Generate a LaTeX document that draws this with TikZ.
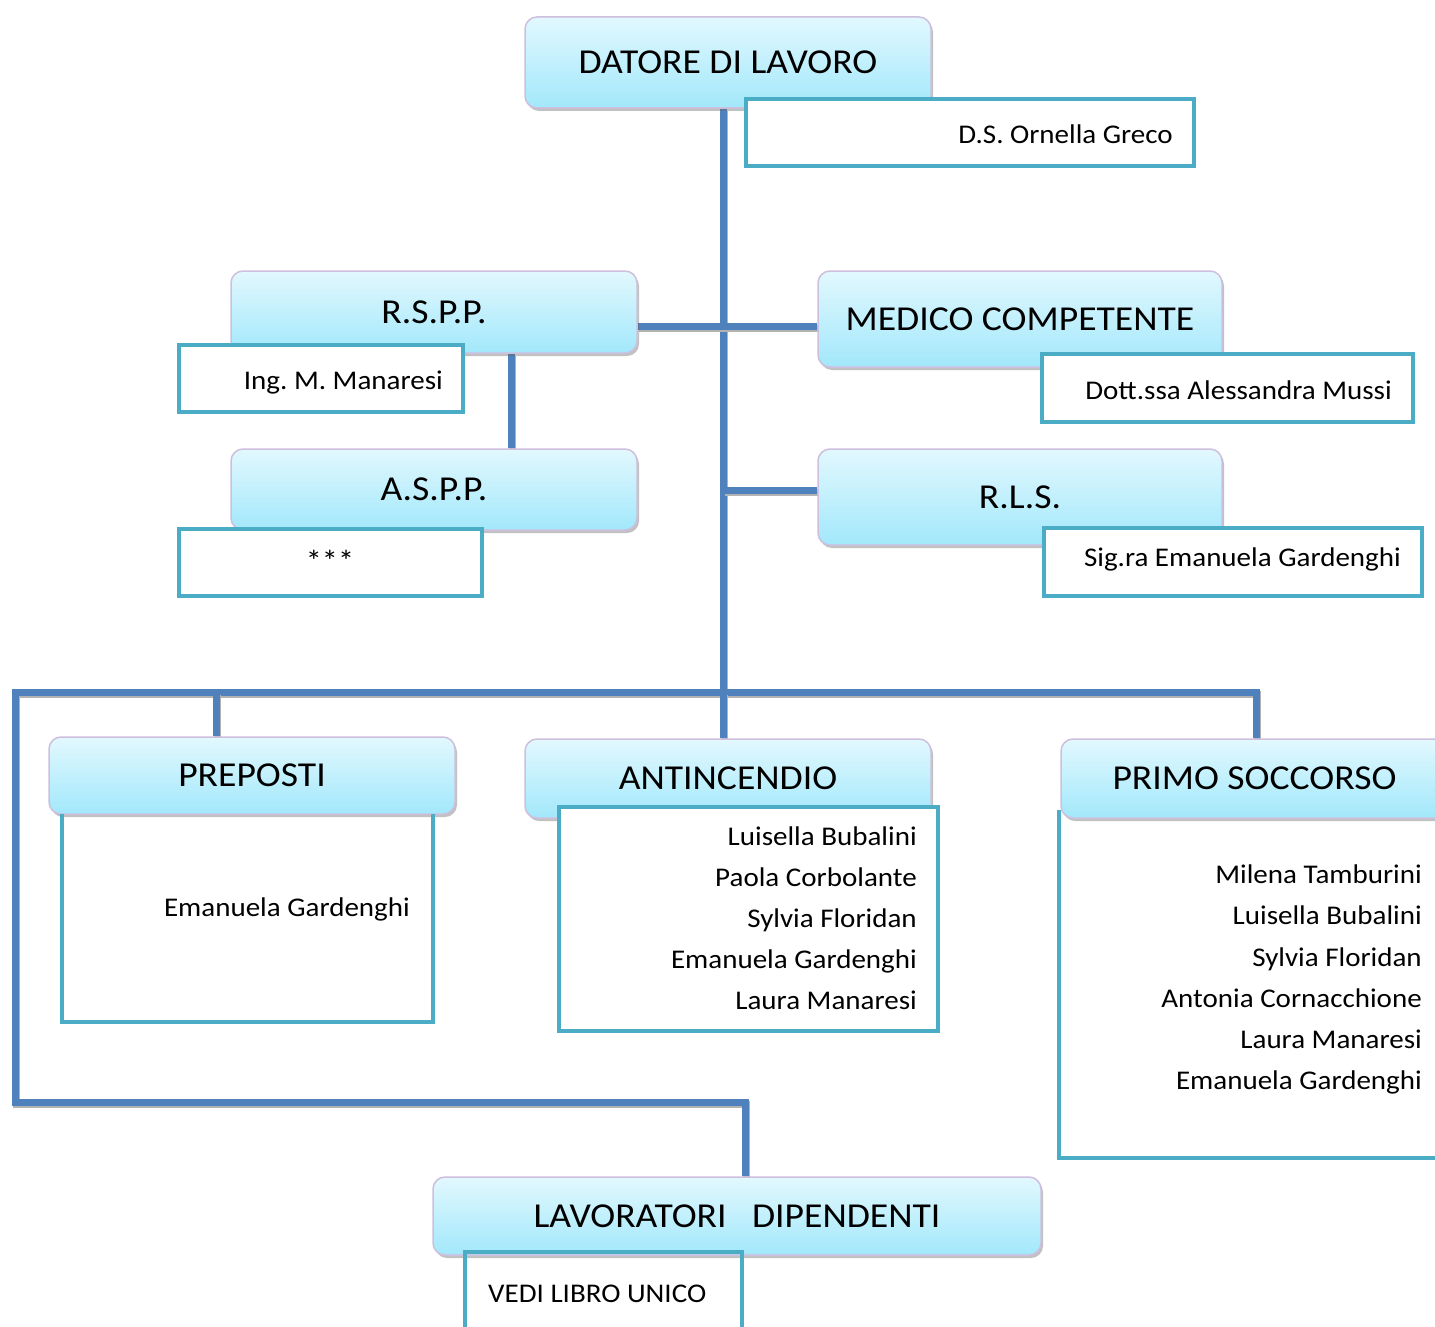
\documentclass[tikz,border=0pt]{standalone}
\usepackage{fontspec}
\setmainfont[FakeStretch=1.075]{Carlito}
\usetikzlibrary{shadows}
\pgfdeclarelayer{background}
\pgfsetlayers{background,main}
\definecolor{conncol}{HTML}{4F81BD}
\definecolor{boxcol}{HTML}{4BACC6}
\definecolor{hdtop}{HTML}{E2F8FE}
\definecolor{hdbot}{HTML}{A2E8FB}
\definecolor{hdline}{HTML}{CDBFDD}
\frenchspacing
\begin{document}
\begin{tikzpicture}[x=1pt,y=-1pt,
 hdr/.style={draw=hdline, line width=1.5pt, rounded corners=12pt, top color=hdtop, bottom color=hdbot,
   font=\fontsize{35}{42}\selectfont, inner sep=0pt,
   drop shadow={shadow xshift=2pt, shadow yshift=-3pt, opacity=0.4, fill=black!60}},
 tbox/.style={draw=boxcol, line width=4.5pt, fill=white, inner sep=0pt},
 bline/.style={draw=boxcol, line width=4.5pt},
 nm/.style={font=\fontsize{27}{32}\selectfont, inner sep=0pt},
 conn/.style={draw=conncol, line width=7pt,
   preaction={draw=black!30, line width=7pt, transform canvas={shift={(1.5pt,-2.5pt)}}}},
]
\begin{pgfonlayer}{background}
\path[use as bounding box] (0,0) rectangle (1435,1327);
\fill[white] (0,0) rectangle (1435,1327);
\end{pgfonlayer}
\clip (0,0) rectangle (1435,1327);

% header nodes
\node[hdr, minimum width=406pt, minimum height=91pt] (dat) at (728,62.5) {DATORE DI LAVORO};
\node[hdr, minimum width=406pt, minimum height=82pt] (rspp) at (434,312) {R.S.P.P.};
\node[hdr, minimum width=406pt, minimum height=81pt] (aspp) at (434,489.5) {A.S.P.P.};
\node[hdr, minimum width=404pt, minimum height=96pt] (med) at (1020,319) {MEDICO COMPETENTE};
\node[hdr, minimum width=404pt, minimum height=96pt] (rls) at (1020,497) {R.L.S.};
\node[hdr, minimum width=406pt, minimum height=77pt] (prep) at (252,775.5) {PREPOSTI};
\node[hdr, minimum width=406pt, minimum height=79pt] (anti) at (728,778.5) {ANTINCENDIO};
\node[hdr, minimum width=387pt, minimum height=79pt] (primo) at (1254.5,778.5) {PRIMO SOCCORSO};
\node[hdr, minimum width=608pt, minimum height=78pt] (lav) at (737,1216) {LAVORATORI\ \ \ DIPENDENTI};

% junction coordinates
\coordinate (j) at (723,692);
\coordinate (mid) at (723,326);
\coordinate (r) at (723,490);
\coordinate (ra) at (511,400);
\coordinate (busL) at (15,692);
\coordinate (busR) at (1256,692);
\coordinate (bp) at (216,692);
\coordinate (lc) at (745,1102);

% connectors (behind the nodes)
\begin{pgfonlayer}{background}
\draw[conn] (dat.south -| j) -- (j);
\draw[conn] (rspp.east |- mid) -- (med.west |- mid);
\draw[conn] (r) -- (rls.west |- r);
\draw[conn] (rspp.south -| ra) -- (aspp.north -| ra);
\draw[conn] (primo.north -| busR) -- (busR) -- (busL) -- (busL |- lc) -- (lc) -- (lav.north -| lc);
\draw[conn] (bp) -- (prep.north -| bp);
\draw[conn] (j) -- (anti.north -| j);
\end{pgfonlayer}

% text boxes
\node[tbox, minimum width=448pt, minimum height=67pt] (ds) at (970,132.5) {};
\node[nm, anchor=base east] (dst) at (1173,143) {D.S. Ornella Greco};

\node[tbox, minimum width=284pt, minimum height=67pt] (ing) at (321,378.5) {};
\node[nm, anchor=base east] (ingt) at (443,389) {Ing. M. Manaresi};

\node[tbox, minimum width=303pt, minimum height=67pt] (ast) at (330.5,562.5) {};
\node[nm, anchor=base, font=\fontsize{30}{32}\selectfont] (astt) at (330,571) {***};

\node[tbox, minimum width=371pt, minimum height=68pt] (dott) at (1227.5,388) {};
\node[nm, anchor=base east] (dottt) at (1392,399) {Dott.ssa Alessandra Mussi};

\node[tbox, minimum width=378pt, minimum height=68pt] (sig) at (1233,562) {};
\node[nm, anchor=base east] (sigt) at (1401,566) {Sig.ra Emanuela Gardenghi};

% preposti body
\draw[bline] (62,814) -- (62,1022) -- (433,1022) -- (433,814);
\node[nm, anchor=base east] (prept) at (410,916) {Emanuela Gardenghi};

% antincendio body
\node[tbox, minimum width=379pt, minimum height=224pt] (antib) at (748.5,919) {};
\node[nm, anchor=base east] (a1) at (917,845) {Luisella Bubalini};
\node[nm, anchor=base east] (a2) at (917,886) {Paola Corbolante};
\node[nm, anchor=base east] (a3) at (917,927) {Sylvia Floridan};
\node[nm, anchor=base east] (a4) at (917,968) {Emanuela Gardenghi};
\node[nm, anchor=base east] (a5) at (917,1009) {Laura Manaresi};

% primo soccorso body
\draw[bline] (1059,810) -- (1059,1158) -- (1445,1158);
\node[nm, anchor=base east] (p1) at (1422,883) {Milena Tamburini};
\node[nm, anchor=base east] (p2) at (1422,924) {Luisella Bubalini};
\node[nm, anchor=base east] (p3) at (1422,966) {Sylvia Floridan};
\node[nm, anchor=base east] (p4) at (1422,1007) {Antonia Cornacchione};
\node[nm, anchor=base east] (p5) at (1422,1048) {Laura Manaresi};
\node[nm, anchor=base east] (p6) at (1422,1089) {Emanuela Gardenghi};

% lavoratori body
\draw[bline] (465,1340) -- (465,1252) -- (742,1252) -- (742,1340);
\node[nm, anchor=base west] (vt) at (488,1302) {VEDI LIBRO UNICO};
\end{tikzpicture}
\end{document}
